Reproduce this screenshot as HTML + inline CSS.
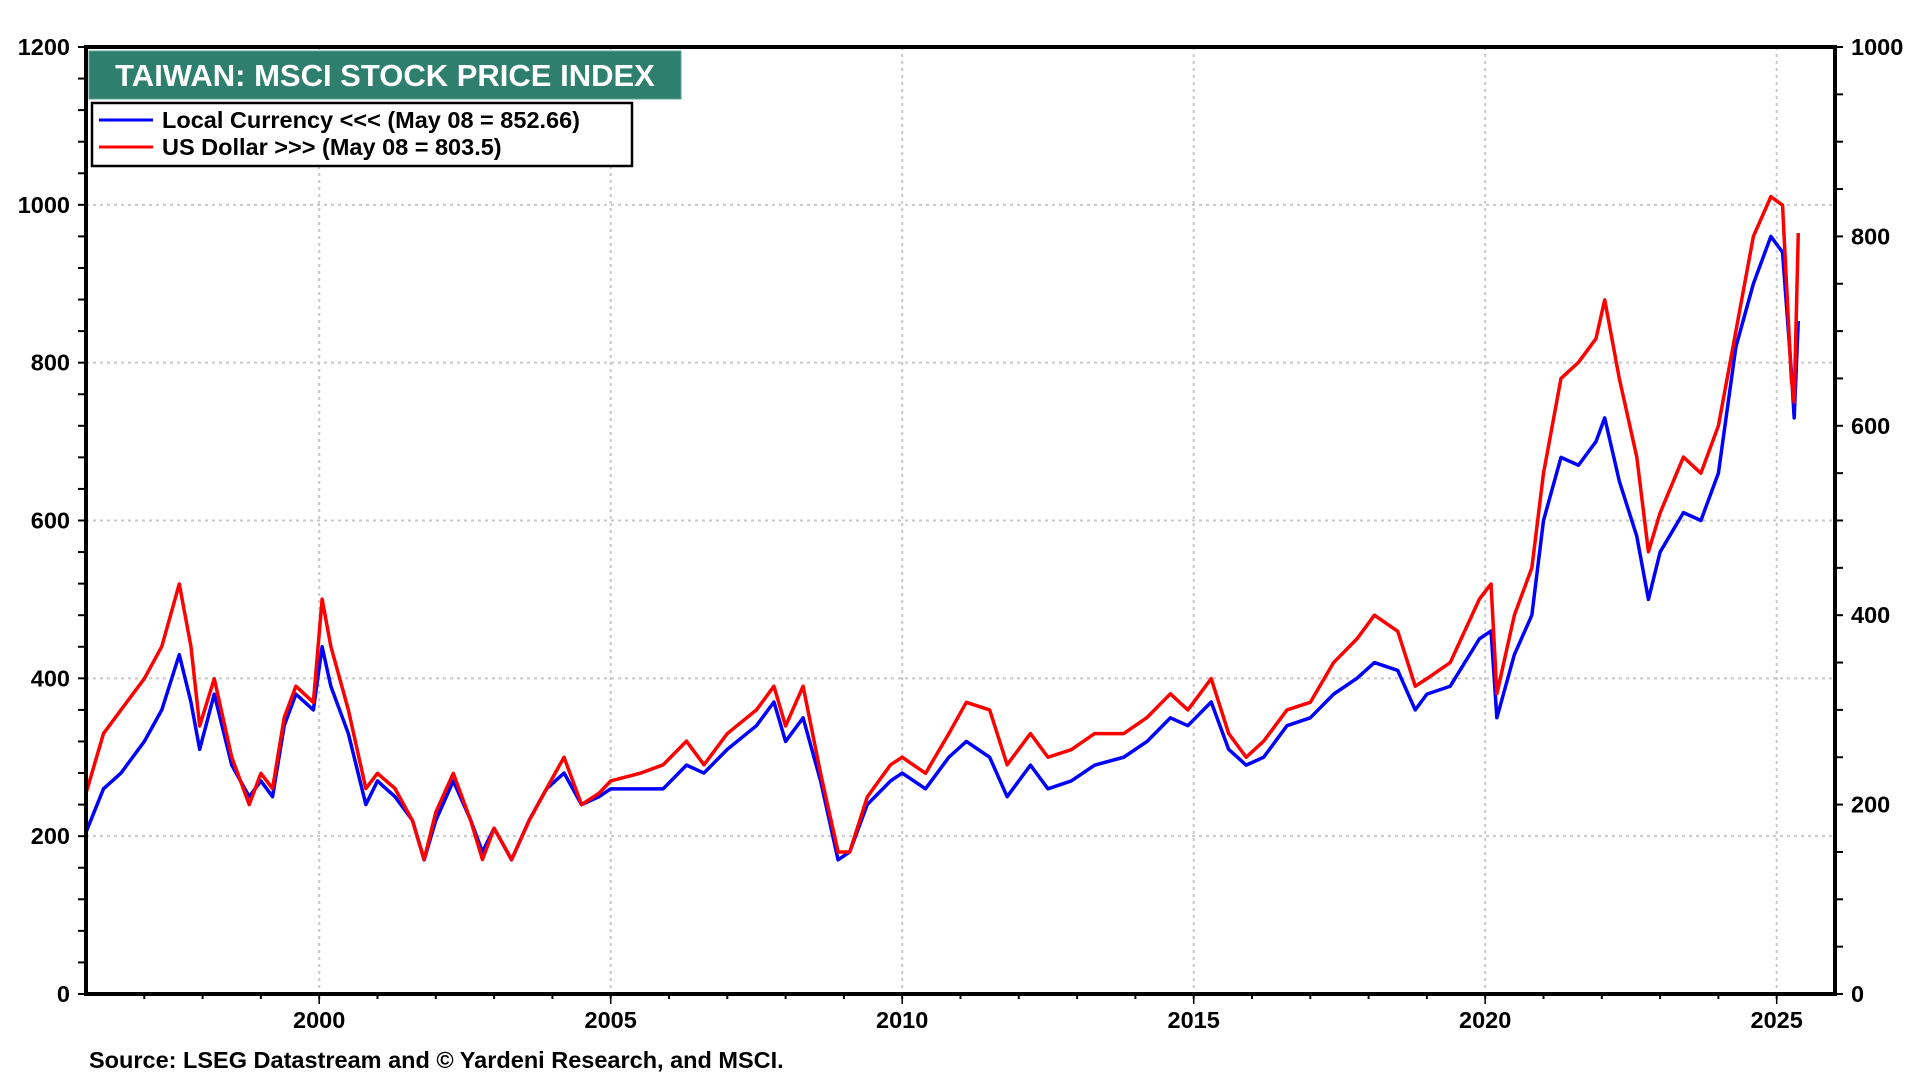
<!DOCTYPE html>
<html><head><meta charset="utf-8"><style>
html,body{margin:0;padding:0;background:#fff;width:1920px;height:1080px;overflow:hidden;font-family:"Liberation Sans",Arial,sans-serif}
svg text{font-family:"Liberation Sans",Arial,sans-serif;font-weight:bold}
</style></head><body>
<svg id="chart" width="1920" height="1080" xmlns="http://www.w3.org/2000/svg">
<g id="grid"></g>
<g id="series"></g>
<g id="axes"></g>
<rect x="89" y="51" width="592" height="48" fill="#2e7f6e" stroke="#5aa597" stroke-width="1"/>
<text x="385" y="86" text-anchor="middle" font-size="31" fill="#fff">TAIWAN: MSCI STOCK PRICE INDEX</text>
<rect x="92" y="103" width="540" height="63" fill="#fff" stroke="#000" stroke-width="2.5"/>
<g><line x1="99" y1="120" x2="153" y2="120" stroke="#0000ff" stroke-width="3"/><text x="162" y="128" font-size="23.5">Local Currency &lt;&lt;&lt; (May 08 = 852.66)</text></g>
<g><line x1="99" y1="147" x2="153" y2="147" stroke="#ff0000" stroke-width="3"/><text x="162" y="155" font-size="23.5">US Dollar &gt;&gt;&gt; (May 08 = 803.5)</text></g>
<text x="89" y="1068" font-size="23.5">Source: LSEG Datastream and © Yardeni Research, and MSCI.</text>
</svg>
<script>
const dates=[1996.0,1996.3,1996.6,1997.0,1997.3,1997.6,1997.8,1997.95,1998.2,1998.5,1998.8,1999.0,1999.2,1999.4,1999.6,1999.9,2000.05,2000.2,2000.5,2000.8,2001.0,2001.3,2001.6,2001.8,2002.0,2002.3,2002.6,2002.8,2003.0,2003.3,2003.6,2003.9,2004.2,2004.5,2004.8,2005.0,2005.5,2005.9,2006.3,2006.6,2007.0,2007.5,2007.8,2008.0,2008.3,2008.6,2008.9,2009.1,2009.4,2009.8,2010.0,2010.4,2010.8,2011.1,2011.5,2011.8,2012.2,2012.5,2012.9,2013.3,2013.8,2014.2,2014.6,2014.9,2015.3,2015.6,2015.9,2016.2,2016.6,2017.0,2017.4,2017.8,2018.1,2018.5,2018.8,2019.0,2019.4,2019.9,2020.1,2020.2,2020.5,2020.8,2021.0,2021.3,2021.6,2021.9,2022.05,2022.3,2022.6,2022.8,2023.0,2023.4,2023.7,2024.0,2024.3,2024.6,2024.9,2025.1,2025.25,2025.3,2025.37];
const localCurrency=[205,260,280,320,360,430,370,310,380,290,250,270,250,340,380,360,440,390,330,240,270,250,220,170,220,270,220,180,210,170,220,260,280,240,250,260,260,260,290,280,310,340,370,320,350,270,170,180,240,270,280,260,300,320,300,250,290,260,270,290,300,320,350,340,370,310,290,300,340,350,380,400,420,410,360,380,390,450,460,350,430,480,600,680,670,700,730,650,580,500,560,610,600,660,820,900,960,940,790,730,852.66];
const usDollar=[212,275,300,333,367,433,367,283,333,250,200,233,217,292,325,308,417,367,300,217,233,217,183,142,192,233,183,142,175,142,183,217,250,200,212,225,233,242,267,242,275,300,325,283,325,233,150,150,208,242,250,233,275,308,300,242,275,250,258,275,275,292,317,300,333,275,250,267,300,308,350,375,400,383,325,333,350,417,433,317,400,450,550,650,667,692,733,650,567,467,508,567,550,600,700,800,842,833,650,625,803.5];
const leftTicks=[0,200,400,600,800,1000,1200];
const rightTicks=[0,200,400,600,800,1000];
const yearTicks=[2000,2005,2010,2015,2020,2025];

const X0=86,X1=1835,Y0=994,Y1=47,T0=1996.0,T1=2026.0;
const xs=t=>X0+(t-T0)/(T1-T0)*(X1-X0);
const yl=v=>Y0-v/1200*(Y0-Y1);
const yr=v=>Y0-v/1000*(Y0-Y1);
const NS='http://www.w3.org/2000/svg';
function mk(tag,parent,attrs){const e=document.createElementNS(NS,tag);for(const k in attrs)e.setAttribute(k,attrs[k]);parent.appendChild(e);return e;}
const grid=document.getElementById('grid'),axes=document.getElementById('axes'),ser=document.getElementById('series');
leftTicks.forEach(v=>{
 if(v>0&&v<1200){const g=mk('line',grid,{x1:X0,x2:X1,y1:yl(v),y2:yl(v),stroke:'#c8c8c8','stroke-width':2,'stroke-dasharray':'3,4'});
 
 }
 const t=mk('text',axes,{x:X0-16,y:yl(v)+8,'text-anchor':'end','font-size':23.5});t.textContent=v;
 
 
});
for(let v=0;v<=1200;v+=40){mk('line',axes,{x1:X0-8,x2:X0,y1:yl(v),y2:yl(v),stroke:'#000','stroke-width':2});}
rightTicks.forEach(v=>{
 const t=mk('text',axes,{x:X1+16,y:yr(v)+8,'text-anchor':'start','font-size':23.5});t.textContent=v;
 
 
});
for(let v=0;v<=1000;v+=50){mk('line',axes,{x1:X1,x2:X1+8,y1:yr(v),y2:yr(v),stroke:'#000','stroke-width':2});}
yearTicks.forEach(y=>{
 const g=mk('line',grid,{x1:xs(y),x2:xs(y),y1:Y1,y2:Y0,stroke:'#c8c8c8','stroke-width':2,'stroke-dasharray':'3,4'});
 
 
 const t=mk('text',axes,{x:xs(y),y:Y0+34,'text-anchor':'middle','font-size':23.5});t.textContent=y;
 
 
 mk('line',axes,{x1:xs(y),x2:xs(y),y1:Y0,y2:Y0+10,stroke:'#000','stroke-width':1.5});
});
for(let y=1997;y<=2025;y++){mk('line',axes,{x1:xs(y),x2:xs(y),y1:Y0,y2:Y0+5,stroke:'#000','stroke-width':2});}
const frame=mk('rect',axes,{x:X0,y:Y1,width:X1-X0,height:Y0-Y1,fill:'none',stroke:'#000','stroke-width':4});


const pb=mk('polyline',ser,{points:dates.map((d,i)=>xs(d)+','+yl(localCurrency[i])).join(' '),fill:'none',stroke:'#0000ff','stroke-width':3.5,'stroke-linejoin':'round'});


const pr=mk('polyline',ser,{points:dates.map((d,i)=>xs(d)+','+yr(usDollar[i])).join(' '),fill:'none',stroke:'#ff0000','stroke-width':3.5,'stroke-linejoin':'round'});


</script>
</body></html>
